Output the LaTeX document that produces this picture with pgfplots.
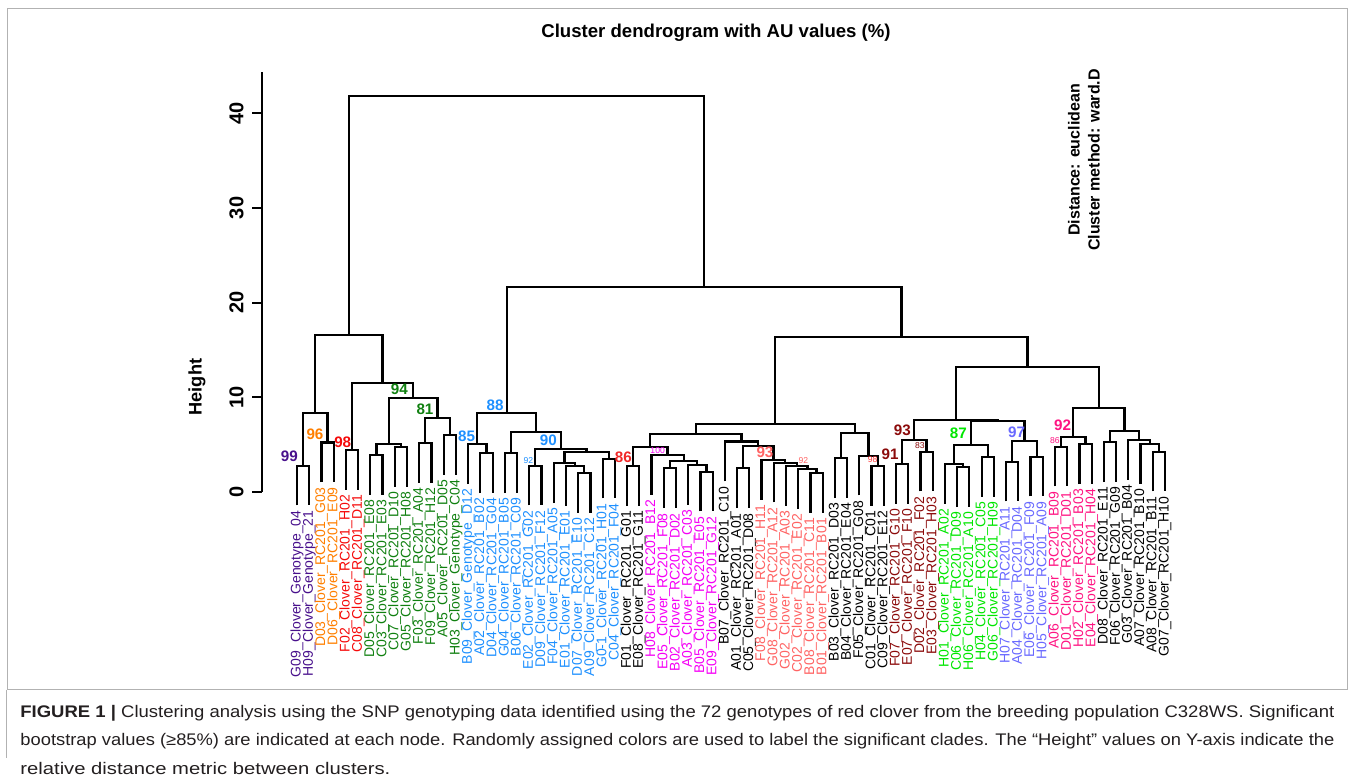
\documentclass[border=0pt]{standalone}
\usepackage{pgfplots}
\pgfplotsset{compat=1.18}
\usepackage{fontspec}
\setmainfont{Liberation Sans}
\usepackage{graphicx}

\definecolor{cpurple}{RGB}{72,16,140}
\definecolor{corange}{RGB}{255,127,0}
\definecolor{cred}{RGB}{245,10,10}
\definecolor{cdkgreen}{RGB}{16,128,16}
\definecolor{cblue}{RGB}{30,144,255}
\definecolor{cmagenta}{RGB}{245,0,245}
\definecolor{csalmon}{RGB}{255,100,100}
\definecolor{cdkred}{RGB}{139,10,10}
\definecolor{cgreen}{RGB}{0,230,0}
\definecolor{clav}{RGB}{105,105,255}
\definecolor{cpink}{RGB}{255,20,130}
\definecolor{cred2}{RGB}{240,40,40}
\definecolor{cred3}{RGB}{255,60,60}
\definecolor{captxt}{RGB}{35,31,32}

\pgfplotsset{dendro/.style={black,line width=1.1pt,mark=none,line join=miter}}
\newcommand{\U}[5]{\addplot[dendro] coordinates {(#1,#2) (#1,#3) (#4,#3) (#4,#5)};}
\newcommand{\lf}[4]{\node[rotate=90,anchor=east,inner sep=0pt,text=#3,font=\fontsize{7.0}{7}\selectfont] at (axis cs:#1,{#2-0.5}) {#4};}
\newcommand{\au}[4]{\node[text=#3,font=\bfseries\fontsize{7.6}{8}\selectfont,inner sep=0pt] at (axis cs:#1,#2) {#4};}
\newcommand{\aus}[4]{\node[text=#3,font=\fontsize{4.3}{5}\selectfont,inner sep=0pt] at (axis cs:#1,#2) {#4};}

\begin{document}
\begin{tikzpicture}
\useasboundingbox (0pt,0pt) rectangle (677.5pt,-389.5pt);
% frame
\draw[gray!60,line width=0.5pt] (3.5pt,-4.5pt) rectangle (673.5pt,-345pt);
\draw[gray!60,line width=0.5pt] (3pt,-345pt) -- (3pt,-379pt);
% title
\node[font=\bfseries\fontsize{9.3}{10}\selectfont] at (358pt,-16.5pt) {Cluster dendrogram with AU values (\%)};
% right text
\node[rotate=90,font=\bfseries\fontsize{8}{9}\selectfont] at (537pt,-80pt) {Distance: euclidean};
\node[rotate=90,font=\bfseries\fontsize{8}{9}\selectfont] at (547pt,-80pt) {Cluster method: ward.D};

\begin{axis}[
  at={(131pt,-245.85pt)}, anchor=south west,
  scale only axis, width=457.6pt, height=210pt,
  xmin=-1.863, xmax=73, ymin=0, ymax=44.4,
  clip=false,
  axis x line=none, axis y line*=left,
  axis line style={line width=1pt,black},
  ytick={0,10,20,30,40},
  tick align=outside, major tick length=5pt,
  tick style={line width=1pt,black},
  /pgf/number format/assume math mode=true,
  yticklabel shift=4pt,
  yticklabel style={rotate=90,anchor=south,inner sep=0pt,font=\bfseries\fontsize{10}{11}\selectfont},
  ylabel={Height},
  ylabel style={at={(axis description cs:-0.071,0.249)},anchor=center,rotate=0,font=\bfseries\fontsize{9.1}{10}\selectfont},
]
% ---- left cluster (leaves 1-14)
\U{1}{-1.45}{2.75}{2}{-1.45}
\U{3}{1.0}{5.2}{4}{1.0}
\U{1.5}{2.75}{8.36}{3.5}{5.2}
\U{5}{0.2}{4.41}{6}{0.2}
\U{7}{-0.32}{3.88}{8}{-0.32}
\U{9}{0.52}{4.72}{10}{0.52}
\U{7.5}{3.88}{5.04}{9.5}{4.72}
\U{11}{0.95}{5.15}{12}{0.95}
\U{13}{1.79}{5.99}{14}{1.79}
\U{11.5}{5.15}{7.79}{13.5}{5.99}
\U{8.5}{5.04}{9.9}{12.5}{7.79}
\U{5.5}{4.41}{11.52}{10.5}{9.9}
\U{2.5}{8.36}{16.55}{8.0}{11.52}
% ---- blue cluster (15-27)
\U{16}{-0.14}{4.06}{17}{-0.14}
\U{15}{0.81}{5.01}{16.5}{4.06}
\U{18}{-0.14}{4.06}{19}{-0.14}
\U{20}{-1.45}{2.75}{21}{-1.45}
\U{24}{-2.25}{1.95}{25}{-2.25}
\U{23}{-1.48}{2.72}{24.5}{1.95}
\U{22}{-1.2}{3.0}{23.75}{2.72}
\U{26}{-0.71}{3.49}{27}{-0.71}
\U{22.875}{3.0}{4.23}{26.5}{3.49}
\U{20.5}{2.75}{4.48}{24.6875}{4.23}
\U{18.5}{4.06}{6.28}{22.59375}{4.48}
\U{15.75}{5.01}{8.29}{20.546875}{6.28}
% ---- middle group (28-49)
\U{28}{-1.48}{2.72}{29}{-1.48}
\U{34}{-2.09}{2.11}{35}{-2.09}
\U{33}{-1.38}{2.82}{34.5}{2.11}
\U{31}{-1.73}{2.47}{32}{-1.73}
\U{31.5}{2.47}{3.28}{33.75}{2.82}
\U{30}{-0.32}{3.88}{32.625}{3.28}
\U{28.5}{2.72}{4.76}{31.3125}{3.88}
\U{37}{-1.73}{2.47}{38}{-1.73}
\U{43}{-2.25}{1.95}{44}{-2.25}
\U{42}{-1.83}{2.37}{43.5}{1.95}
\U{41}{-1.48}{2.72}{42.75}{2.37}
\U{40}{-1.13}{3.07}{41.875}{2.72}
\U{39}{-0.85}{3.35}{40.9375}{3.07}
\U{37.5}{2.47}{4.83}{39.96875}{3.35}
\U{36}{1.1}{5.3}{38.734}{4.83}
\U{29.90625}{4.76}{6.07}{37.367}{5.3}
\U{45}{-0.67}{3.53}{46}{-0.67}
\U{48}{-1.48}{2.72}{49}{-1.48}
\U{47}{-0.39}{3.81}{48.5}{2.72}
\U{45.5}{3.53}{6.17}{47.75}{3.81}
\U{33.637}{6.07}{7.12}{46.625}{6.17}
% ---- right group (50-72)
\U{50}{-1.27}{2.93}{51}{-1.27}
\U{52}{0.03}{4.23}{53}{0.03}
\U{50.5}{2.93}{5.47}{52.5}{4.23}
\U{55}{-1.62}{2.58}{56}{-1.62}
\U{54}{-1.3}{2.9}{55.5}{2.58}
\U{57}{-0.56}{3.64}{58}{-0.56}
\U{54.75}{2.9}{4.94}{57.5}{3.64}
\U{59}{-1.03}{3.17}{60}{-1.03}
\U{61}{-0.5}{3.7}{62}{-0.5}
\U{59.5}{3.17}{5.39}{61.5}{3.7}
\U{56.125}{4.94}{7.5}{60.5}{5.39}
\U{51.5}{5.47}{7.61}{58.3125}{7.5}
\U{63}{0.56}{4.76}{64}{0.56}
\U{65}{0.81}{5.01}{66}{0.81}
\U{63.5}{4.76}{5.81}{65.5}{5.01}
\U{67}{1.02}{5.22}{68}{1.02}
\U{71}{0.03}{4.23}{72}{0.03}
\U{70}{0.81}{5.01}{71.5}{4.23}
\U{69}{1.27}{5.47}{70.75}{5.01}
\U{67.5}{5.22}{6.42}{69.875}{5.47}
\U{64.5}{5.81}{8.88}{68.6875}{6.42}
\U{54.906}{7.61}{13.21}{66.594}{8.88}
\U{40.131}{7.12}{16.35}{60.75}{13.21}
\U{18.148}{8.29}{21.64}{50.44}{16.35}
\U{5.25}{16.55}{41.83}{34.29}{21.64}
% ---- AU values
\au{0.37}{3.77}{cpurple}{99}
\au{2.47}{6.10}{corange}{96}
\au{4.74}{5.18}{cred}{98}
\au{9.37}{10.82}{cdkgreen}{94}
\au{11.47}{8.71}{cdkgreen}{81}
\au{14.88}{5.89}{cblue}{85}
\au{17.20}{9.09}{cblue}{88}
\au{21.56}{5.39}{cblue}{90}
\aus{19.92}{3.28}{cblue}{92}
\au{27.69}{3.64}{cred2}{86}
\aus{30.5}{4.30}{cmagenta}{100}
\au{39.28}{4.16}{csalmon}{93}
\aus{42.42}{3.28}{csalmon}{92}
\aus{48.09}{3.35}{cred3}{98}
\au{49.51}{3.95}{cdkred}{91}
\au{50.51}{6.45}{cdkred}{93}
\aus{51.96}{4.83}{cdkred}{83}
\au{55.09}{6.17}{cgreen}{87}
\au{59.87}{6.28}{clav}{97}
\au{63.63}{6.98}{cpink}{92}
\aus{63.0}{5.36}{cpink}{86}
% ---- leaf labels
\lf{1}{-1.45}{cpurple}{G09\_Clover\_Genotype\_04}
\lf{2}{-1.45}{cpurple}{H09\_Clover\_Genotype\_21}
\lf{3}{1.0}{corange}{D03\_Clover\_RC201\_G03}
\lf{4}{1.0}{corange}{D06\_Clover\_RC201\_E09}
\lf{5}{0.2}{cred}{F02\_Clover\_RC201\_H02}
\lf{6}{0.2}{cred}{C08\_Clover\_RC201\_D11}
\lf{7}{-0.32}{cdkgreen}{D05\_Clover\_RC201\_E08}
\lf{8}{-0.32}{cdkgreen}{C03\_Clover\_RC201\_E03}
\lf{9}{0.52}{cdkgreen}{C07\_Clover\_RC201\_D10}
\lf{10}{0.52}{cdkgreen}{G05\_Clover\_RC201\_H08}
\lf{11}{0.95}{cdkgreen}{F03\_Clover\_RC201\_A04}
\lf{12}{0.95}{cdkgreen}{F09\_Clover\_RC201\_H12}
\lf{13}{1.79}{cdkgreen}{A05\_Clover\_RC201\_D05}
\lf{14}{1.79}{cdkgreen}{H03\_Clover\_Genotype\_C04}
\lf{15}{0.81}{cblue}{B09\_Clover\_Genotype\_D12}
\lf{16}{-0.14}{cblue}{A02\_Clover\_RC201\_B02}
\lf{17}{-0.14}{cblue}{D04\_Clover\_RC201\_G04}
\lf{18}{-0.14}{cblue}{G04\_Clover\_RC201\_B05}
\lf{19}{-0.14}{cblue}{B06\_Clover\_RC201\_C09}
\lf{20}{-1.45}{cblue}{E02\_Clover\_RC201\_G02}
\lf{21}{-1.45}{cblue}{D09\_Clover\_RC201\_F12}
\lf{22}{-1.2}{cblue}{F04\_Clover\_RC201\_A05}
\lf{23}{-1.48}{cblue}{E01\_Clover\_RC201\_E01}
\lf{24}{-2.25}{cblue}{D07\_Clover\_RC201\_E10}
\lf{25}{-2.25}{cblue}{A09\_Clover\_RC201\_C12}
\lf{26}{-0.71}{cblue}{G0-1\_Clover\_RC201\_H01}
\lf{27}{-0.71}{cblue}{C04\_Clover\_RC201\_F04}
\lf{28}{-1.48}{black}{F01\_Clover\_RC201\_G01}
\lf{29}{-1.48}{black}{E08\_Clover\_RC201\_G11}
\lf{30}{-0.32}{cmagenta}{H08\_Clover\_RC201\_B12}
\lf{31}{-1.73}{cmagenta}{E05\_Clover\_RC201\_F08}
\lf{32}{-1.73}{cmagenta}{B02\_Clover\_RC201\_D02}
\lf{33}{-1.38}{cmagenta}{A03\_Clover\_RC201\_C03}
\lf{34}{-2.09}{cmagenta}{B05\_Clover\_RC201\_E05}
\lf{35}{-2.09}{cmagenta}{E09\_Clover\_RC201\_G12}
\lf{36}{1.1}{black}{B07\_Clover\_RC201\_C10}
\lf{37}{-1.73}{black}{A01\_Clover\_RC201\_A01}
\lf{38}{-1.73}{black}{C05\_Clover\_RC201\_D08}
\lf{39}{-0.85}{csalmon}{F08\_Clover\_RC201\_H11}
\lf{40}{-1.13}{csalmon}{G08\_Clover\_RC201\_A12}
\lf{41}{-1.48}{csalmon}{G02\_Clover\_RC201\_A03}
\lf{42}{-1.83}{csalmon}{C02\_Clover\_RC201\_E02}
\lf{43}{-2.25}{csalmon}{B08\_Clover\_RC201\_C11}
\lf{44}{-2.25}{csalmon}{B01\_Clover\_RC201\_B01}
\lf{45}{-0.67}{black}{B03\_Clover\_RC201\_D03}
\lf{46}{-0.67}{black}{B04\_Clover\_RC201\_E04}
\lf{47}{-0.39}{black}{F05\_Clover\_RC201\_G08}
\lf{48}{-1.48}{black}{C01\_Clover\_RC201\_C01}
\lf{49}{-1.48}{black}{C09\_Clover\_RC201\_E12}
\lf{50}{-1.27}{cdkred}{F07\_Clover\_RC201\_G10}
\lf{51}{-1.27}{cdkred}{E07\_Clover\_RC201\_F10}
\lf{52}{0.03}{cdkred}{D02\_Clover\_RC201\_F02}
\lf{53}{0.03}{cdkred}{E03\_Clover\_RC201\_H03}
\lf{54}{-1.3}{cgreen}{H01\_Clover\_RC201\_A02}
\lf{55}{-1.62}{cgreen}{C06\_Clover\_RC201\_D09}
\lf{56}{-1.62}{cgreen}{H06\_Clover\_RC201\_A10}
\lf{57}{-0.56}{cgreen}{H04\_Clover\_RC201\_C05}
\lf{58}{-0.56}{cgreen}{G06\_Clover\_RC201\_H09}
\lf{59}{-1.03}{clav}{H07\_Clover\_RC201\_A11}
\lf{60}{-1.03}{clav}{A04\_Clover\_RC201\_D04}
\lf{61}{-0.5}{clav}{E06\_Clover\_RC201\_F09}
\lf{62}{-0.5}{clav}{H05\_Clover\_RC201\_A09}
\lf{63}{0.56}{cpink}{A06\_Clover\_RC201\_B09}
\lf{64}{0.56}{cpink}{D01\_Clover\_RC201\_D01}
\lf{65}{0.81}{cpink}{H02\_Clover\_RC201\_B03}
\lf{66}{0.81}{cpink}{E04\_Clover\_RC201\_H04}
\lf{67}{1.02}{black}{D08\_Clover\_RC201\_E11}
\lf{68}{1.02}{black}{F06\_Clover\_RC201\_G09}
\lf{69}{1.27}{black}{G03\_Clover\_RC201\_B04}
\lf{70}{0.81}{black}{A07\_Clover\_RC201\_B10}
\lf{71}{0.03}{black}{A08\_Clover\_RC201\_B11}
\lf{72}{0.03}{black}{G07\_Clover\_RC201\_H10}
\end{axis}

% caption
\node[anchor=base west,inner sep=0pt,text=captxt,font=\fontsize{8.4}{9}\selectfont] at (10pt,-358.65pt)
  {\resizebox{657pt}{\height}{\textbf{FIGURE 1 |} Clustering analysis using the SNP genotyping data identified using the 72 genotypes of red clover from the breeding population C328WS. Significant}};
\node[anchor=base west,inner sep=0pt,text=captxt,font=\fontsize{8.4}{9}\selectfont] at (10pt,-373pt)
  {\resizebox{657pt}{\height}{bootstrap values (≥85\%) are indicated at each node. Randomly assigned colors are used to label the significant clades. The “Height” values on Y-axis indicate the}};
\node[anchor=base west,inner sep=0pt,text=captxt,font=\fontsize{8.4}{9}\selectfont] at (10pt,-387.4pt)
  {\resizebox{185pt}{\height}{relative distance metric between clusters.}};
\end{tikzpicture}
\end{document}
